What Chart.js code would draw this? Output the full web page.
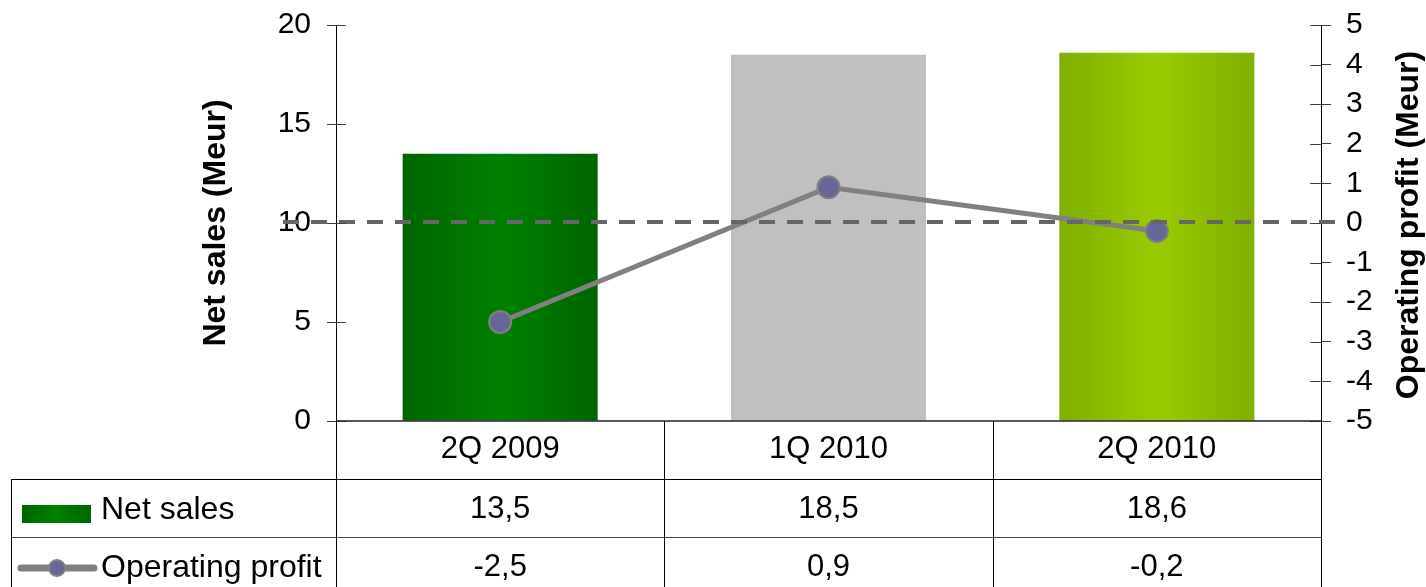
<!DOCTYPE html>
<html>
<head>
<meta charset="utf-8">
<script src="https://cdn.jsdelivr.net/npm/chart.js@4/dist/chart.umd.min.js"></script>
<style>
  html, body { margin: 0; padding: 0; background: #fff; }
  #wrap { width: 1426px; height: 587px; position: relative; }
</style>
</head>
<body>
<div id="wrap"><canvas id="c" width="1426" height="587"></canvas></div>
<script>
// Quarterly figures
const categories = ['2Q 2009', '1Q 2010', '2Q 2010'];
const netSales = [13.5, 18.5, 18.6];
const operatingProfit = [-2.5, 0.9, -0.2];

// Axis ranges and tick steps
const salesAxis = { min: 0, max: 20, step: 5 };
const profitAxis = { min: -5, max: 5, step: 1 };

// Series labels for the data table
const seriesNames = ['Net sales', 'Operating profit'];

const FONT = "Arial, 'Liberation Sans', sans-serif";

// Bar fills: [edge, centre] horizontal gradient, or a plain colour
const barFills = [
  ['#006400', '#008000'],
  '#C0C0C0',
  ['#7FAF00', '#99CC00']
];
const BAR_FRACTION = 0.594;

function hGradient(ctx, x0, x1, edge, centre) {
  const g = ctx.createLinearGradient(x0, 0, x1, 0);
  g.addColorStop(0, edge);
  g.addColorStop(0.5, centre);
  g.addColorStop(1, edge);
  return g;
}

function barBackground(context) {
  const chart = context.chart;
  const fill = barFills[context.dataIndex];
  if (typeof fill === 'string') return fill;
  const area = chart.chartArea;
  const xs = chart.scales.x;
  if (!area || !xs) return fill[1];
  const cx = xs.getPixelForValue(context.dataIndex);
  const half = (area.right - area.left) / categories.length * BAR_FRACTION / 2;
  return hGradient(chart.ctx, cx - half, cx + half, fill[0], fill[1]);
}

function fmt(v) {
  return v.toFixed(1).replace('.', ',');
}

// Axis decorations, zero line, right title and the data table below the plot
const tablePlugin = {
  id: 'tablePlugin',
  afterDatasetsDraw(chart) {
    const { ctx, chartArea: a, scales } = chart;
    const y0 = scales.y1.getPixelForValue(0) - 1;
    ctx.save();
    ctx.strokeStyle = '#666666';
    ctx.lineWidth = 4;
    ctx.setLineDash([16, 12]);
    ctx.beginPath();
    ctx.moveTo(283, y0);
    ctx.lineTo(a.right + 14, y0);
    ctx.stroke();
    ctx.restore();
  },
  afterDraw(chart) {
    const { ctx, chartArea: a, scales } = chart;
    const xs = scales.x;
    ctx.save();

    // inner halves of the crossing tick marks
    ctx.strokeStyle = '#404040';
    ctx.lineWidth = 1;
    scales.y.ticks.forEach(t => {
      const py = Math.round(scales.y.getPixelForValue(t.value)) + 0.5;
      ctx.beginPath(); ctx.moveTo(a.left, py); ctx.lineTo(a.left + 10, py); ctx.stroke();
    });
    scales.y1.ticks.forEach(t => {
      const py = Math.round(scales.y1.getPixelForValue(t.value)) + 0.5;
      ctx.beginPath(); ctx.moveTo(a.right - 11, py); ctx.lineTo(a.right, py); ctx.stroke();
    });

    // right axis title, reading bottom to top
    ctx.fillStyle = '#000';
    ctx.font = `bold 32px ${FONT}`;
    ctx.textAlign = 'center';
    ctx.textBaseline = 'middle';
    ctx.translate(1409, (a.top + a.bottom) / 2 + 2);
    ctx.rotate(-Math.PI / 2);
    ctx.fillText('Operating profit (Meur)', 0, 0);
    ctx.setTransform(1, 0, 0, 1, 0, 0);

    // category base line
    ctx.strokeStyle = '#222';
    ctx.lineWidth = 1.5;
    ctx.beginPath(); ctx.moveTo(a.left, a.bottom); ctx.lineTo(a.right, a.bottom); ctx.stroke();

    // table grid
    const H = chart.height;
    const rowTop = [a.bottom, 479, 537];
    const colW = (a.right - a.left) / categories.length;
    ctx.strokeStyle = '#000';
    ctx.lineWidth = 1;
    const line = (x1, y1, x2, y2) => { ctx.beginPath(); ctx.moveTo(x1, y1); ctx.lineTo(x2, y2); ctx.stroke(); };
    line(11, rowTop[1] + 0.5, a.right, rowTop[1] + 0.5);
    ctx.strokeStyle = '#444';
    line(11, rowTop[2] + 0.5, a.right, rowTop[2] + 0.5);
    ctx.strokeStyle = '#000';
    line(11.5, rowTop[1], 11.5, H);
    for (let i = 0; i <= categories.length; i++) {
      const x = Math.round(a.left + i * colW) + 0.5;
      line(x, a.bottom, x, H);
    }

    // category labels and values
    ctx.fillStyle = '#000';
    ctx.textAlign = 'center';
    ctx.textBaseline = 'middle';
    ctx.font = `31px ${FONT}`;
    categories.forEach((c, i) => {
      const cx = xs.getPixelForValue(i);
      ctx.fillText(c, cx, 449);
      ctx.fillText(fmt(netSales[i]), cx, 509);
      ctx.fillText(fmt(operatingProfit[i]), cx, 567);
    });

    // legend keys
    ctx.fillStyle = hGradient(ctx, 22, 91, barFills[0][0], barFills[0][1]);
    ctx.fillRect(22, 505, 69, 18);

    ctx.strokeStyle = '#808080';
    ctx.lineWidth = 7;
    ctx.lineCap = 'round';
    line(21, 568, 94, 568);
    ctx.lineCap = 'butt';
    ctx.beginPath();
    ctx.arc(57, 568, 8, 0, Math.PI * 2);
    ctx.fillStyle = '#666699';
    ctx.fill();
    ctx.lineWidth = 2;
    ctx.strokeStyle = '#808080';
    ctx.stroke();

    ctx.fillStyle = '#000';
    ctx.textAlign = 'left';
    ctx.font = `32px ${FONT}`;
    ctx.fillText(seriesNames[0], 101, 510);
    ctx.fillText(seriesNames[1], 101, 568);

    ctx.restore();
  }
};

new Chart(document.getElementById('c'), {
  data: {
    labels: categories,
    datasets: [
      {
        type: 'line',
        label: seriesNames[1],
        data: operatingProfit,
        yAxisID: 'y1',
        order: 0,
        borderColor: '#808080',
        borderWidth: 5,
        pointRadius: 11,
        pointBorderWidth: 2,
        pointBackgroundColor: '#666699',
        pointBorderColor: '#808080',
        tension: 0
      },
      {
        type: 'bar',
        label: seriesNames[0],
        data: netSales,
        yAxisID: 'y',
        order: 1,
        backgroundColor: barBackground,
        borderWidth: 0,
        barPercentage: BAR_FRACTION,
        categoryPercentage: 1
      }
    ]
  },
  options: {
    responsive: false,
    animation: false,
    layout: { padding: { left: 193, right: 0, top: 25, bottom: 166 } },
    plugins: { legend: { display: false }, tooltip: { enabled: false } },
    scales: {
      x: { display: false, offset: true },
      y: {
        position: 'left',
        min: salesAxis.min,
        max: salesAxis.max,
        afterFit(s) { s.width = 143; },
        ticks: { stepSize: salesAxis.step, autoSkip: false, color: '#000', padding: 16, font: { family: FONT, size: 30, lineHeight: 0.5 } },
        grid: { drawOnChartArea: false, tickLength: 9, color: '#404040', lineWidth: 1 },
        border: { color: '#000', width: 1 },
        title: {
          display: true,
          text: 'Net sales (Meur)',
          color: '#000',
          padding: { top: 4, bottom: 4 },
          font: { family: FONT, size: 32, weight: 'bold' }
        }
      },
      y1: {
        position: 'right',
        min: profitAxis.min,
        max: profitAxis.max,
        afterFit(s) { s.width = 105; },
        ticks: { stepSize: profitAxis.step, autoSkip: false, color: '#000', padding: 15, font: { family: FONT, size: 30, lineHeight: 0.5 } },
        grid: { drawOnChartArea: false, tickLength: 10, color: '#404040', lineWidth: 1 },
        border: { color: '#000', width: 1 }
      }
    }
  },
  plugins: [tablePlugin]
});
</script>
</body>
</html>
